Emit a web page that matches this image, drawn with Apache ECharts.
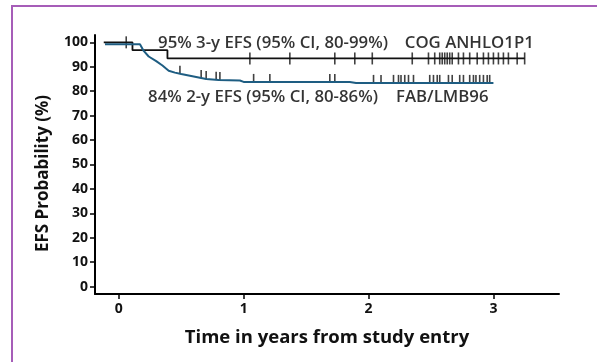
<!DOCTYPE html>
<html>
<head>
<meta charset="utf-8">
<script src="https://cdn.jsdelivr.net/npm/echarts@6/dist/echarts.min.js"></script>
<style>
html,body{margin:0;padding:0;background:#fff;overflow:hidden;width:597px;height:362px;}
#frame{position:absolute;left:11px;top:5px;width:586px;height:357px;border-left:2px solid #a65db8;border-top:2px solid #a65db8;box-sizing:border-box;}
#chart{position:absolute;left:0;top:0;width:597px;height:362px;}
</style>
</head>
<body>
<div id="frame"></div>
<div id="chart"></div>
<script>
// Tick labels
const xTicks = [0, 1, 2, 3];
const yTicks = [0, 10, 20, 30, 40, 50, 60, 70, 80, 90, 100];

// COG ANHLO1P1 (black) Kaplan-Meier curve
const cogTime = [-0.12, 0.11, 0.39, 3.25];
const cogSurv = [100, 96.8, 93.4, 93.4];
const cogCensor = [0.06, 1.05, 1.37, 1.73, 1.89, 2.03, 2.35, 2.48, 2.53, 2.57, 2.59, 2.61, 2.63, 2.65, 2.67, 2.72, 2.76, 2.81, 2.87, 2.92, 2.96, 3.00, 3.04, 3.08, 3.12, 3.19, 3.25];

// FAB/LMB96 (blue) Kaplan-Meier curve
const fabTime = [-0.11, 0.17, 0.20, 0.24, 0.30, 0.35, 0.40, 0.45, 0.50, 0.60, 0.70, 0.80, 0.97, 1.00, 1.85, 1.90, 3.00];
const fabSurv = [99.2, 99.2, 96.5, 94.2, 92.3, 90.5, 88.4, 87.6, 87.0, 86.0, 85.0, 84.6, 84.4, 83.8, 83.8, 83.4, 83.4];
const fabCensor = [0.49, 0.66, 0.70, 0.78, 0.81, 1.08, 1.21, 1.69, 1.73, 2.04, 2.10, 2.20, 2.24, 2.26, 2.29, 2.32, 2.36, 2.49, 2.52, 2.55, 2.57, 2.64, 2.67, 2.73, 2.76, 2.81, 2.84, 2.86, 2.89, 2.92, 2.95, 2.97];

// Annotation texts
const cogLabel = "95% 3-y EFS (95% CI, 80-99%)";
const cogName = "COG ANHLO1P1";
const fabLabel = "84% 2-y EFS (95% CI, 80-86%)";
const fabName = "FAB/LMB96";

function stepAt(times, vals, t) {
  let v = vals[0];
  for (let i = 0; i < times.length; i++) { if (times[i] <= t) v = vals[i]; }
  return v;
}
function lineAt(times, vals, t) {
  for (let i = 0; i < times.length - 1; i++) {
    if (t >= times[i] && t <= times[i + 1]) {
      const f = (t - times[i]) / (times[i + 1] - times[i]);
      return vals[i] + f * (vals[i + 1] - vals[i]);
    }
  }
  return vals[vals.length - 1];
}

const font = "'Open Sans', 'DejaVu Sans', sans-serif";
const chart = echarts.init(document.getElementById('chart'), null, {renderer: 'canvas'});
const annStyle = {show: true, position: 'right', distance: 0, color: '#000', fontFamily: font, fontSize: 16.8, fontWeight: 600};

chart.setOption({
  animation: false,
  grid: {left: 95, right: 38, top: 35, bottom: 68},
  xAxis: {
    type: 'value', min: -0.19, max: 3.525,
    axisLine: {show: true, onZero: false, lineStyle: {color: '#000', width: 2}},
    axisTick: {show: true, customValues: xTicks, length: 5, lineStyle: {color: '#000', width: 1.5}},
    axisLabel: {customValues: xTicks, color: '#111', fontFamily: font, fontSize: 14, fontWeight: 'bold', margin: 8},
    splitLine: {show: false},
    name: 'Time in years from study entry', nameLocation: 'middle', nameGap: 34,
    nameTextStyle: {color: '#111', fontFamily: font, fontSize: 18.5, fontWeight: 'bold'}
  },
  yAxis: {
    type: 'value', min: -3, max: 103,
    axisLine: {show: true, onZero: false, lineStyle: {color: '#000', width: 2}},
    axisTick: {show: true, customValues: yTicks, length: 5, lineStyle: {color: '#000', width: 1.5}},
    axisLabel: {customValues: yTicks, color: '#111', fontFamily: font, fontSize: 14, fontWeight: 'bold', margin: 7},
    splitLine: {show: false},
    name: 'EFS Probability (%)', nameLocation: 'middle', nameGap: 43, nameRotate: 90,
    nameTextStyle: {color: '#111', fontFamily: font, fontSize: 17, fontWeight: 'bold', padding: [0, 18, 0, 0]}
  },
  series: [
    {
      type: 'line', step: 'end', symbol: 'none',
      data: cogTime.map((t, i) => [t, cogSurv[i]]),
      lineStyle: {color: '#111', width: 1.8}
    },
    {
      type: 'line', symbol: 'none',
      data: fabTime.map((t, i) => [t, fabSurv[i]]),
      lineStyle: {color: '#1e5d82', width: 2}
    },
    {
      type: 'scatter', symbol: 'rect', symbolSize: [1.6, 12],
      data: cogCensor.map(t => [t, stepAt(cogTime, cogSurv, t)]),
      itemStyle: {color: '#111'}
    },
    {
      type: 'scatter', symbol: 'rect', symbolSize: [1.6, 8], symbolOffset: [0, -4],
      data: fabCensor.map(t => [t, lineAt(fabTime, fabSurv, t)]),
      itemStyle: {color: '#111'}
    },
    {
      type: 'scatter', symbolSize: 0, silent: true,
      data: [
        {value: [0.315, 99.6], label: Object.assign({formatter: cogLabel}, annStyle)},
        {value: [2.29, 99.6], label: Object.assign({formatter: cogName}, annStyle)},
        {value: [0.235, 77.6], label: Object.assign({formatter: fabLabel}, annStyle)},
        {value: [2.22, 77.6], label: Object.assign({formatter: fabName}, annStyle)}
      ]
    }
  ]
});
</script>
</body>
</html>
